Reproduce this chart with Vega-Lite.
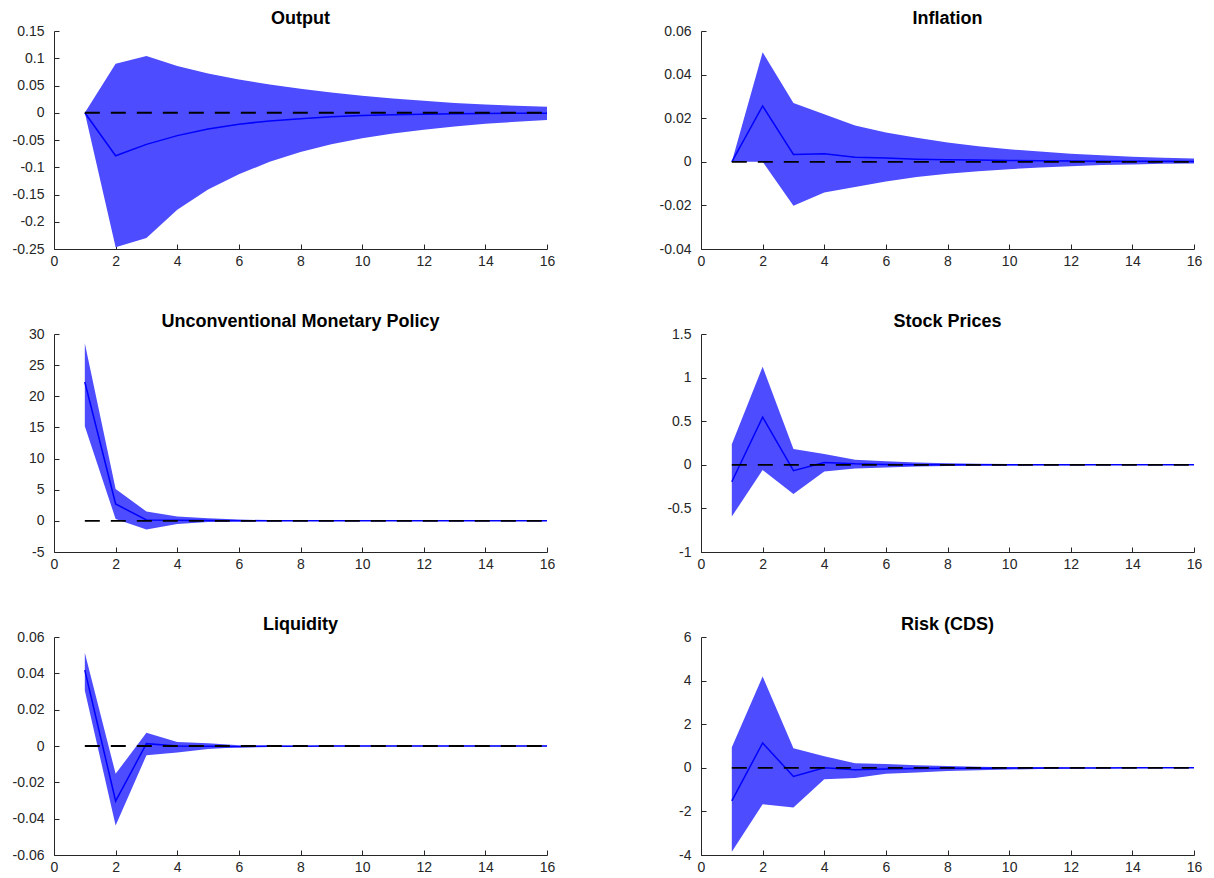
{
  "$schema": "https://vega.github.io/schema/vega-lite/v6.json",
  "padding": {"left": 12, "top": 9, "right": 5, "bottom": 2},
  "background": "white",
  "bounds": "flush",
  "columns": 2,
  "spacing": {"row": 85, "column": 154},
  "datasets": {
    "irf": [
      {"panel": "Output", "h": 1, "lo": 0, "hi": 0, "med": 0},
      {"panel": "Output", "h": 2, "lo": -0.247, "hi": 0.09, "med": -0.079},
      {"panel": "Output", "h": 3, "lo": -0.23, "hi": 0.104, "med": -0.058},
      {"panel": "Output", "h": 4, "lo": -0.178, "hi": 0.086, "med": -0.042},
      {"panel": "Output", "h": 5, "lo": -0.141, "hi": 0.072, "med": -0.03},
      {"panel": "Output", "h": 6, "lo": -0.113, "hi": 0.061, "med": -0.021},
      {"panel": "Output", "h": 7, "lo": -0.09, "hi": 0.052, "med": -0.015},
      {"panel": "Output", "h": 8, "lo": -0.072, "hi": 0.044, "med": -0.011},
      {"panel": "Output", "h": 9, "lo": -0.058, "hi": 0.037, "med": -0.0075},
      {"panel": "Output", "h": 10, "lo": -0.047, "hi": 0.031, "med": -0.005},
      {"panel": "Output", "h": 11, "lo": -0.038, "hi": 0.026, "med": -0.0038},
      {"panel": "Output", "h": 12, "lo": -0.031, "hi": 0.022, "med": -0.0027},
      {"panel": "Output", "h": 13, "lo": -0.025, "hi": 0.018, "med": -0.002},
      {"panel": "Output", "h": 14, "lo": -0.02, "hi": 0.015, "med": -0.0014},
      {"panel": "Output", "h": 15, "lo": -0.0165, "hi": 0.013, "med": -0.001},
      {"panel": "Output", "h": 16, "lo": -0.0135, "hi": 0.011, "med": -0.0007},

      {"panel": "Inflation", "h": 1, "lo": 0, "hi": 0, "med": 0},
      {"panel": "Inflation", "h": 2, "lo": 0, "hi": 0.0502, "med": 0.0256},
      {"panel": "Inflation", "h": 3, "lo": -0.0202, "hi": 0.027, "med": 0.0034},
      {"panel": "Inflation", "h": 4, "lo": -0.0141, "hi": 0.0218, "med": 0.0037},
      {"panel": "Inflation", "h": 5, "lo": -0.0116, "hi": 0.0166, "med": 0.0021},
      {"panel": "Inflation", "h": 6, "lo": -0.009, "hi": 0.0134, "med": 0.0017},
      {"panel": "Inflation", "h": 7, "lo": -0.007, "hi": 0.011, "med": 0.0012},
      {"panel": "Inflation", "h": 8, "lo": -0.0055, "hi": 0.0088, "med": 0.0009},
      {"panel": "Inflation", "h": 9, "lo": -0.0043, "hi": 0.0071, "med": 0.0008},
      {"panel": "Inflation", "h": 10, "lo": -0.0034, "hi": 0.0057, "med": 0.0006},
      {"panel": "Inflation", "h": 11, "lo": -0.0026, "hi": 0.0047, "med": 0.0005},
      {"panel": "Inflation", "h": 12, "lo": -0.002, "hi": 0.0037, "med": 0.0004},
      {"panel": "Inflation", "h": 13, "lo": -0.0015, "hi": 0.003, "med": 0.0003},
      {"panel": "Inflation", "h": 14, "lo": -0.0012, "hi": 0.0023, "med": 0.0002},
      {"panel": "Inflation", "h": 15, "lo": -0.0009, "hi": 0.0019, "med": 0.0002},
      {"panel": "Inflation", "h": 16, "lo": -0.0008, "hi": 0.0015, "med": 0.0001},

      {"panel": "Unconventional Monetary Policy", "h": 1, "lo": 15.2, "hi": 28.5, "med": 22.3},
      {"panel": "Unconventional Monetary Policy", "h": 2, "lo": 0.3, "hi": 5.1, "med": 2.7},
      {"panel": "Unconventional Monetary Policy", "h": 3, "lo": -1.4, "hi": 1.5, "med": 0.15},
      {"panel": "Unconventional Monetary Policy", "h": 4, "lo": -0.5, "hi": 0.7, "med": 0.1},
      {"panel": "Unconventional Monetary Policy", "h": 5, "lo": -0.2, "hi": 0.4, "med": 0.05},
      {"panel": "Unconventional Monetary Policy", "h": 6, "lo": -0.1, "hi": 0.2, "med": 0.03},
      {"panel": "Unconventional Monetary Policy", "h": 7, "lo": -0.06, "hi": 0.12, "med": 0.02},
      {"panel": "Unconventional Monetary Policy", "h": 8, "lo": -0.04, "hi": 0.08, "med": 0.01},
      {"panel": "Unconventional Monetary Policy", "h": 9, "lo": -0.03, "hi": 0.05, "med": 0.01},
      {"panel": "Unconventional Monetary Policy", "h": 10, "lo": -0.02, "hi": 0.04, "med": 0.005},
      {"panel": "Unconventional Monetary Policy", "h": 11, "lo": -0.015, "hi": 0.03, "med": 0.004},
      {"panel": "Unconventional Monetary Policy", "h": 12, "lo": -0.01, "hi": 0.02, "med": 0.003},
      {"panel": "Unconventional Monetary Policy", "h": 13, "lo": -0.008, "hi": 0.015, "med": 0.002},
      {"panel": "Unconventional Monetary Policy", "h": 14, "lo": -0.006, "hi": 0.01, "med": 0.001},
      {"panel": "Unconventional Monetary Policy", "h": 15, "lo": -0.005, "hi": 0.008, "med": 0.001},
      {"panel": "Unconventional Monetary Policy", "h": 16, "lo": -0.004, "hi": 0.006, "med": 0.0005},

      {"panel": "Stock Prices", "h": 1, "lo": -0.593, "hi": 0.236, "med": -0.194},
      {"panel": "Stock Prices", "h": 2, "lo": -0.061, "hi": 1.125, "med": 0.547},
      {"panel": "Stock Prices", "h": 3, "lo": -0.334, "hi": 0.182, "med": -0.068},
      {"panel": "Stock Prices", "h": 4, "lo": -0.076, "hi": 0.125, "med": 0.027},
      {"panel": "Stock Prices", "h": 5, "lo": -0.042, "hi": 0.057, "med": 0.011},
      {"panel": "Stock Prices", "h": 6, "lo": -0.03, "hi": 0.042, "med": 0.004},
      {"panel": "Stock Prices", "h": 7, "lo": -0.019, "hi": 0.027, "med": 0.002},
      {"panel": "Stock Prices", "h": 8, "lo": -0.015, "hi": 0.019, "med": 0.001},
      {"panel": "Stock Prices", "h": 9, "lo": -0.011, "hi": 0.011, "med": 0.0005},
      {"panel": "Stock Prices", "h": 10, "lo": -0.008, "hi": 0.008, "med": 0.0003},
      {"panel": "Stock Prices", "h": 11, "lo": -0.005, "hi": 0.005, "med": 0.0002},
      {"panel": "Stock Prices", "h": 12, "lo": -0.004, "hi": 0.004, "med": 0.0001},
      {"panel": "Stock Prices", "h": 13, "lo": -0.003, "hi": 0.003, "med": 0.0001},
      {"panel": "Stock Prices", "h": 14, "lo": -0.002, "hi": 0.002, "med": 0},
      {"panel": "Stock Prices", "h": 15, "lo": -0.0015, "hi": 0.0015, "med": 0},
      {"panel": "Stock Prices", "h": 16, "lo": -0.001, "hi": 0.001, "med": 0},

      {"panel": "Liquidity", "h": 1, "lo": 0.0306, "hi": 0.0513, "med": 0.0418},
      {"panel": "Liquidity", "h": 2, "lo": -0.0438, "hi": -0.0153, "med": -0.0303},
      {"panel": "Liquidity", "h": 3, "lo": -0.0051, "hi": 0.0073, "med": 0.0013},
      {"panel": "Liquidity", "h": 4, "lo": -0.0036, "hi": 0.0022, "med": 0},
      {"panel": "Liquidity", "h": 5, "lo": -0.0016, "hi": 0.0015, "med": -0.0002},
      {"panel": "Liquidity", "h": 6, "lo": -0.0007, "hi": 0.0004, "med": -0.0004},
      {"panel": "Liquidity", "h": 7, "lo": -0.0004, "hi": 0.0003, "med": -0.0002},
      {"panel": "Liquidity", "h": 8, "lo": -0.0003, "hi": 0.0002, "med": -0.0001},
      {"panel": "Liquidity", "h": 9, "lo": -0.0002, "hi": 0.0002, "med": 0},
      {"panel": "Liquidity", "h": 10, "lo": -0.0002, "hi": 0.0001, "med": 0},
      {"panel": "Liquidity", "h": 11, "lo": -0.0001, "hi": 0.0001, "med": 0},
      {"panel": "Liquidity", "h": 12, "lo": -0.0001, "hi": 0.0001, "med": 0},
      {"panel": "Liquidity", "h": 13, "lo": -0.0001, "hi": 0.0001, "med": 0},
      {"panel": "Liquidity", "h": 14, "lo": -0.0001, "hi": 0.0001, "med": 0},
      {"panel": "Liquidity", "h": 15, "lo": -0.0001, "hi": 0.0001, "med": 0},
      {"panel": "Liquidity", "h": 16, "lo": -0.0001, "hi": 0.0001, "med": 0},

      {"panel": "Risk (CDS)", "h": 1, "lo": -3.85, "hi": 0.94, "med": -1.52},
      {"panel": "Risk (CDS)", "h": 2, "lo": -1.67, "hi": 4.19, "med": 1.14},
      {"panel": "Risk (CDS)", "h": 3, "lo": -1.82, "hi": 0.9, "med": -0.4},
      {"panel": "Risk (CDS)", "h": 4, "lo": -0.53, "hi": 0.53, "med": 0},
      {"panel": "Risk (CDS)", "h": 5, "lo": -0.47, "hi": 0.21, "med": -0.09},
      {"panel": "Risk (CDS)", "h": 6, "lo": -0.27, "hi": 0.18, "med": -0.05},
      {"panel": "Risk (CDS)", "h": 7, "lo": -0.21, "hi": 0.12, "med": -0.03},
      {"panel": "Risk (CDS)", "h": 8, "lo": -0.15, "hi": 0.08, "med": -0.02},
      {"panel": "Risk (CDS)", "h": 9, "lo": -0.11, "hi": 0.05, "med": -0.015},
      {"panel": "Risk (CDS)", "h": 10, "lo": -0.08, "hi": 0.03, "med": -0.01},
      {"panel": "Risk (CDS)", "h": 11, "lo": -0.05, "hi": 0.02, "med": -0.007},
      {"panel": "Risk (CDS)", "h": 12, "lo": -0.035, "hi": 0.015, "med": -0.005},
      {"panel": "Risk (CDS)", "h": 13, "lo": -0.025, "hi": 0.012, "med": -0.004},
      {"panel": "Risk (CDS)", "h": 14, "lo": -0.018, "hi": 0.01, "med": -0.003},
      {"panel": "Risk (CDS)", "h": 15, "lo": -0.013, "hi": 0.008, "med": -0.002},
      {"panel": "Risk (CDS)", "h": 16, "lo": -0.01, "hi": 0.006, "med": -0.001}
    ]
  },
  "data": {"name": "irf"},
  "concat": [
    {
      "title": "Output",
      "width": 493, "height": 218,
      "transform": [{"filter": "datum.panel === 'Output'"}],
      "encoding": {"x": {"field": "h", "type": "quantitative", "title": null, "scale": {"domain": [0, 16], "nice": false}, "axis": {"values": [0, 2, 4, 6, 8, 10, 12, 14, 16]}}},
      "layer": [
        {"mark": {"type": "area", "color": "#4d4dff", "opacity": 1}, "encoding": {"y": {"field": "lo", "type": "quantitative", "title": null, "scale": {"domain": [-0.25, 0.15], "nice": false, "zero": false}, "axis": {"values": [-0.25, -0.2, -0.15, -0.1, -0.05, 0, 0.05, 0.1, 0.15]}}, "y2": {"field": "hi"}}},
        {"mark": {"type": "line", "color": "#0000ff", "strokeWidth": 1.5}, "encoding": {"y": {"field": "med", "type": "quantitative"}}},
        {"mark": {"type": "line", "color": "#000000", "strokeWidth": 1.8, "strokeDash": [15, 11]}, "encoding": {"y": {"datum": 0}}}
      ]
    },
    {
      "title": "Inflation",
      "width": 493, "height": 218,
      "transform": [{"filter": "datum.panel === 'Inflation'"}],
      "encoding": {"x": {"field": "h", "type": "quantitative", "title": null, "scale": {"domain": [0, 16], "nice": false}, "axis": {"values": [0, 2, 4, 6, 8, 10, 12, 14, 16]}}},
      "layer": [
        {"mark": {"type": "area", "color": "#4d4dff", "opacity": 1}, "encoding": {"y": {"field": "lo", "type": "quantitative", "title": null, "scale": {"domain": [-0.04, 0.06], "nice": false, "zero": false}, "axis": {"values": [-0.04, -0.02, 0, 0.02, 0.04, 0.06]}}, "y2": {"field": "hi"}}},
        {"mark": {"type": "line", "color": "#0000ff", "strokeWidth": 1.5}, "encoding": {"y": {"field": "med", "type": "quantitative"}}},
        {"mark": {"type": "line", "color": "#000000", "strokeWidth": 1.8, "strokeDash": [15, 11]}, "encoding": {"y": {"datum": 0}}}
      ]
    },
    {
      "title": "Unconventional Monetary Policy",
      "width": 493, "height": 218,
      "transform": [{"filter": "datum.panel === 'Unconventional Monetary Policy'"}],
      "encoding": {"x": {"field": "h", "type": "quantitative", "title": null, "scale": {"domain": [0, 16], "nice": false}, "axis": {"values": [0, 2, 4, 6, 8, 10, 12, 14, 16]}}},
      "layer": [
        {"mark": {"type": "area", "color": "#4d4dff", "opacity": 1}, "encoding": {"y": {"field": "lo", "type": "quantitative", "title": null, "scale": {"domain": [-5, 30], "nice": false, "zero": false}, "axis": {"values": [-5, 0, 5, 10, 15, 20, 25, 30]}}, "y2": {"field": "hi"}}},
        {"mark": {"type": "line", "color": "#0000ff", "strokeWidth": 1.5}, "encoding": {"y": {"field": "med", "type": "quantitative"}}},
        {"mark": {"type": "line", "color": "#000000", "strokeWidth": 1.8, "strokeDash": [15, 11]}, "encoding": {"y": {"datum": 0}}}
      ]
    },
    {
      "title": "Stock Prices",
      "width": 493, "height": 218,
      "transform": [{"filter": "datum.panel === 'Stock Prices'"}],
      "encoding": {"x": {"field": "h", "type": "quantitative", "title": null, "scale": {"domain": [0, 16], "nice": false}, "axis": {"values": [0, 2, 4, 6, 8, 10, 12, 14, 16]}}},
      "layer": [
        {"mark": {"type": "area", "color": "#4d4dff", "opacity": 1}, "encoding": {"y": {"field": "lo", "type": "quantitative", "title": null, "scale": {"domain": [-1, 1.5], "nice": false, "zero": false}, "axis": {"values": [-1, -0.5, 0, 0.5, 1, 1.5]}}, "y2": {"field": "hi"}}},
        {"mark": {"type": "line", "color": "#0000ff", "strokeWidth": 1.5}, "encoding": {"y": {"field": "med", "type": "quantitative"}}},
        {"mark": {"type": "line", "color": "#000000", "strokeWidth": 1.8, "strokeDash": [15, 11]}, "encoding": {"y": {"datum": 0}}}
      ]
    },
    {
      "title": "Liquidity",
      "width": 493, "height": 218,
      "transform": [{"filter": "datum.panel === 'Liquidity'"}],
      "encoding": {"x": {"field": "h", "type": "quantitative", "title": null, "scale": {"domain": [0, 16], "nice": false}, "axis": {"values": [0, 2, 4, 6, 8, 10, 12, 14, 16]}}},
      "layer": [
        {"mark": {"type": "area", "color": "#4d4dff", "opacity": 1}, "encoding": {"y": {"field": "lo", "type": "quantitative", "title": null, "scale": {"domain": [-0.06, 0.06], "nice": false, "zero": false}, "axis": {"values": [-0.06, -0.04, -0.02, 0, 0.02, 0.04, 0.06]}}, "y2": {"field": "hi"}}},
        {"mark": {"type": "line", "color": "#0000ff", "strokeWidth": 1.5}, "encoding": {"y": {"field": "med", "type": "quantitative"}}},
        {"mark": {"type": "line", "color": "#000000", "strokeWidth": 1.8, "strokeDash": [15, 11]}, "encoding": {"y": {"datum": 0}}}
      ]
    },
    {
      "title": "Risk (CDS)",
      "width": 493, "height": 218,
      "transform": [{"filter": "datum.panel === 'Risk (CDS)'"}],
      "encoding": {"x": {"field": "h", "type": "quantitative", "title": null, "scale": {"domain": [0, 16], "nice": false}, "axis": {"values": [0, 2, 4, 6, 8, 10, 12, 14, 16]}}},
      "layer": [
        {"mark": {"type": "area", "color": "#4d4dff", "opacity": 1}, "encoding": {"y": {"field": "lo", "type": "quantitative", "title": null, "scale": {"domain": [-4, 6], "nice": false, "zero": false}, "axis": {"values": [-4, -2, 0, 2, 4, 6]}}, "y2": {"field": "hi"}}},
        {"mark": {"type": "line", "color": "#0000ff", "strokeWidth": 1.5}, "encoding": {"y": {"field": "med", "type": "quantitative"}}},
        {"mark": {"type": "line", "color": "#000000", "strokeWidth": 1.8, "strokeDash": [15, 11]}, "encoding": {"y": {"datum": 0}}}
      ]
    }
  ],
  "config": {
    "view": {"stroke": null},
    "font": "Liberation Sans",
    "title": {"font": "Liberation Sans", "fontSize": 18, "fontWeight": "bold", "color": "#000000", "offset": -3.5, "anchor": "middle"},
    "axis": {
      "grid": false,
      "domainColor": "#262626",
      "domainWidth": 1,
      "tickColor": "#262626",
      "tickSize": -5,
      "tickCount": 30,
      "labelColor": "#262626",
      "labelFont": "Liberation Sans",
      "labelFontSize": 14,
      "labelFlush": false,
      "labelOverlap": false,
      "labelBound": false,
      "labelExpr": "'' + datum.value"
    },
    "axisY": {"labelPadding": 15, "minExtent": 40, "maxExtent": 40},
    "axisX": {"labelPadding": 10}
  }
}
